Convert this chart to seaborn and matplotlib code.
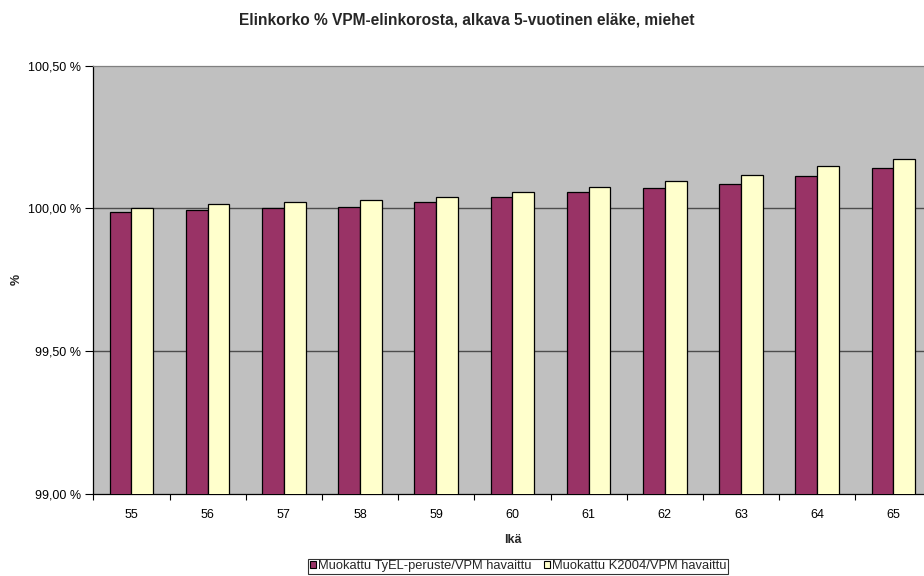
import matplotlib
matplotlib.use("Agg")
import matplotlib.pyplot as plt
from matplotlib.ticker import FuncFormatter, FixedLocator
from matplotlib.patches import Patch
import seaborn as sns
import pandas as pd

ages = ["55", "56", "57", "58", "59", "60", "61", "62", "63", "64", "65"]
tyel = [99.988, 99.995, 100.000, 100.006, 100.021, 100.038, 100.057, 100.071, 100.085, 100.113, 100.141]
k2004 = [100.000, 100.014, 100.023, 100.030, 100.041, 100.056, 100.076, 100.097, 100.118, 100.147, 100.173]
series_names = ["Muokattu TyEL-peruste/VPM havaittu", "Muokattu K2004/VPM havaittu"]
colors = ["#993366", "#FFFFCC"]

df = pd.DataFrame({
    "Ikä": ages * 2,
    "arvo": tyel + k2004,
    "sarja": [series_names[0]] * len(ages) + [series_names[1]] * len(ages),
})

sns.set_theme(style="white")
plt.rcParams["font.family"] = ["Liberation Sans", "DejaVu Sans"]

fig = plt.figure(figsize=(9.24, 5.76), dpi=100)
ax = fig.add_axes([93.3 / 924, 1 - 494 / 576, 838.2 / 924, 428.5 / 576])
ax.set_facecolor("#C0C0C0")

sns.barplot(data=df, x="Ikä", y="arvo", hue="sarja", order=ages,
            hue_order=series_names, palette=colors, saturation=1,
            width=0.57, edgecolor="black", linewidth=0.9, ax=ax,
            legend=False, errorbar=None, zorder=3)

ax.set_ylim(99.0, 100.5)
ax.set_xlim(-0.5, len(ages) - 0.5)
ax.set_yticks([99.0, 99.5, 100.0, 100.5])
ax.yaxis.set_major_formatter(FuncFormatter(lambda v, p: f"{v:.2f}".replace(".", ",") + " %"))

# horizontal gridlines
for yv in [99.5, 100.0]:
    ax.axhline(yv, color="#4d4d4d", linewidth=1.0, zorder=1)

ax.xaxis.set_minor_locator(FixedLocator([i - 0.5 for i in range(len(ages) + 1)]))
ax.tick_params(axis="x", which="major", length=0, labelsize=9, pad=11, colors="black")
ax.tick_params(axis="x", which="minor", length=4, width=0.8, direction="out", color="black", bottom=True)
ax.tick_params(axis="y", which="major", length=6, width=0.8, direction="out", labelsize=9, pad=3, colors="black", left=True)

for sp in ax.spines.values():
    sp.set_visible(True)
    sp.set_linewidth(0.9)
ax.spines["left"].set_color("black")
ax.spines["bottom"].set_color("black")
ax.spines["top"].set_color("#808080")
ax.spines["right"].set_color("#808080")

ax.set_xlabel("Ikä", fontsize=9, fontweight="bold", labelpad=9)
ax.set_ylabel("%", fontsize=9, fontweight="bold")
ax.yaxis.set_label_coords(-0.084, 0.5)

fig.suptitle("Elinkorko % VPM-elinkorosta, alkava 5-vuotinen eläke, miehet",
             x=0.505, y=0.978, fontsize=11.2, fontweight="bold")

handles = [Patch(facecolor=c, edgecolor="black", linewidth=0.8) for c in colors]
leg = fig.legend(handles, series_names, loc="center", bbox_to_anchor=(0.561, 0.0165),
                 ncol=2, fontsize=9.25, frameon=True, fancybox=False, handlelength=0.45,
                 handleheight=0.45, handletextpad=0.15, columnspacing=1.0,
                 borderpad=0.15, borderaxespad=0)
leg.get_frame().set_edgecolor("black")
leg.get_frame().set_linewidth(0.8)

fig.savefig("out.png", dpi=100)
